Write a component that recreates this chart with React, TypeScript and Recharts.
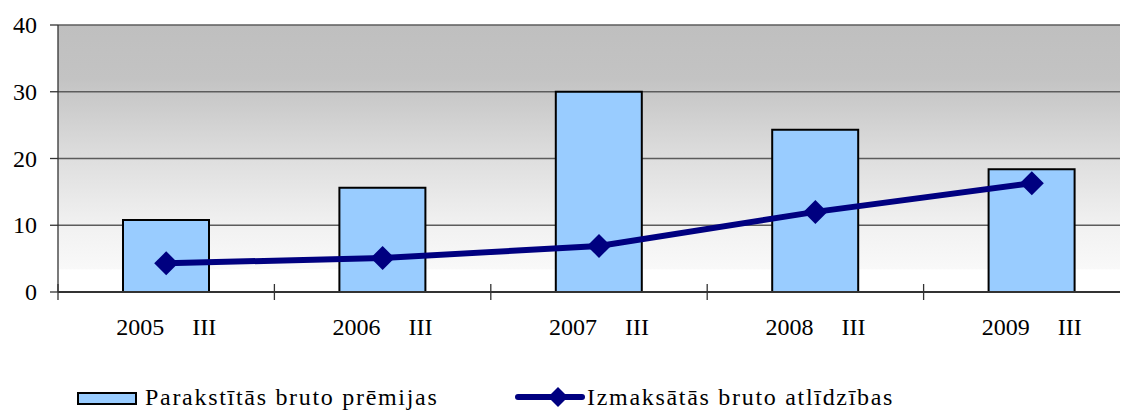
import { Bar, CartesianGrid, ComposedChart, Legend, Line, XAxis, YAxis } from 'recharts'

const years = ['2005', '2006', '2007', '2008', '2009']
const quarter = 'III'
const premijas = [10.8, 15.6, 30.0, 24.3, 18.4]
const atlidzibas = [4.3, 5.1, 6.9, 12.0, 16.3]
const yTicks = [0, 10, 20, 30, 40]
const seriesNames = ['Parakstītās bruto prēmijas', 'Izmaksātās bruto atlīdzības']

const dati = years.map((y, i) => ({
    gads: y,
    premijas: premijas[i],
    atlidzibas: atlidzibas[i],
}))

const FONT = 'Liberation Serif'
const HALF_BAND = 108.2

const XTick = (props: any) => {
    const { x, y, payload } = props
    return (
        <g>
            <line x1={x - HALF_BAND} x2={x - HALF_BAND} y1={y - 8} y2={y + 8} stroke='#333' strokeWidth={1.3} />
            <text x={x - 2} y={y + 43} textAnchor='end' fontSize={24} fontFamily={FONT} fill='#000'>{payload.value}</text>
            <text x={x + 26} y={y + 43} textAnchor='start' fontSize={24} fontFamily={FONT} fill='#000'>{quarter}</text>
        </g>
    )
}

const YTick = (props: any) => {
    const { x, y, payload } = props
    return (
        <text x={x} y={y + 8} textAnchor='end' fontSize={24} fontFamily={FONT} fill='#000'>{payload.value}</text>
    )
}

const Rombs = (props: any) => {
    const { cx, cy } = props
    if (cx == null || cy == null) return null
    const r = 12
    return <polygon points={`${cx},${cy - r} ${cx + r},${cy} ${cx},${cy + r} ${cx - r},${cy}`} fill='#000080' />
}

const teksts = { position: 'absolute' as const, top: 0, whiteSpace: 'nowrap' as const, lineHeight: '26px', letterSpacing: 1.7 }

const Lezenda = () => (
    <div style={{ position: 'relative', height: 26, width: 1120, fontFamily: FONT, fontSize: 24, color: '#000' }}>
        <div style={{ position: 'absolute', left: 69, top: 8, width: 56, height: 9, background: '#99ccff', border: '2px solid #000' }} />
        <div style={{ ...teksts, left: 137 }}>{seriesNames[0]}</div>
        <svg style={{ position: 'absolute', left: 506, top: 0 }} width={72} height={26}>
            <line x1={4} x2={68} y1={13} y2={13} stroke='#000080' strokeWidth={6} strokeLinecap='round' />
            <polygon points='44,3 54,13 44,23 34,13' fill='#000080' />
        </svg>
        <div style={{ ...teksts, left: 579 }}>{seriesNames[1]}</div>
    </div>
)

export default function App() {
    return (
        <div style={{ width: 1120, height: 402, overflow: 'hidden' }}>
            <ComposedChart width={1132} height={402} data={dati} margin={{ top: 17, right: 0, bottom: 0, left: 0 }}>
                <defs>
                    <linearGradient id='fons' x1='0' y1='0' x2='0' y2='1'>
                        <stop offset='0' stopColor='#bfbfbf' />
                        <stop offset='0.2' stopColor='#c3c3c3' />
                        <stop offset='0.5' stopColor='#dedede' />
                        <stop offset='0.75' stopColor='#f1f1f1' />
                        <stop offset='0.915' stopColor='#f9f9f9' />
                        <stop offset='0.916' stopColor='#ffffff' />
                        <stop offset='1' stopColor='#ffffff' />
                    </linearGradient>
                </defs>
                <CartesianGrid vertical={false} fill='url(#fons)' stroke='#5c5c5c' strokeWidth={1.5} />
                <XAxis dataKey='gads' height={92} tick={<XTick />} tickLine={false} tickSize={0} tickMargin={0}
                    axisLine={{ stroke: '#333', strokeWidth: 2 }} interval={0} />
                <YAxis width={50} domain={[0, 40]} ticks={yTicks} tickSize={8} tickMargin={13}
                    axisLine={{ stroke: '#333', strokeWidth: 1.3 }} tickLine={{ stroke: '#333', strokeWidth: 1.3 }}
                    tick={<YTick />} />
                <Legend verticalAlign='bottom' content={<Lezenda />} wrapperStyle={{ left: 0, width: 1120 }} />
                <Bar dataKey='premijas' name={seriesNames[0]} fill='#99ccff' stroke='#000' strokeWidth={2} barSize={86} isAnimationActive={false} />
                <Line dataKey='atlidzibas' name={seriesNames[1]} stroke='#000080' strokeWidth={6} dot={<Rombs />} activeDot={false} isAnimationActive={false} />
            </ComposedChart>
        </div>
    )
}
